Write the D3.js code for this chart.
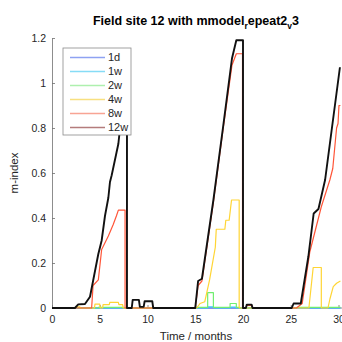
<!DOCTYPE html>
<html>
<head>
<meta charset="utf-8">
<script src="https://cdnjs.cloudflare.com/ajax/libs/d3/7.8.5/d3.min.js"></script>
<style>
  body { margin: 0; background: #fff; }
  svg { display: block; font-family: "Liberation Sans", Arial, sans-serif; }
</style>
</head>
<body>
<div id="chart"></div>
<script>
// series as [time (months), m-index] points
var series1d = [[0, 0], [30.2, 0]];
var series1w = [[0, 0], [16.3, 0], [16.35, 0.005], [16.9, 0.005], [16.95, 0], [18.7, 0], [18.75, 0.004],
    [19.2, 0.004], [19.25, 0], [30.2, 0]];
var series2w = [[0, 0], [4.8, 0], [4.85, 0.003], [7.5, 0.003], [7.55, 0], [15.1, 0], [15.15, 0.003],
    [16.3, 0.003], [16.3, 0.068], [16.9, 0.068], [16.9, 0.003], [18.65, 0.003], [18.65, 0.02], [19.3, 0.02],
    [19.3, 0.003], [19.6, 0.003], [19.65, 0], [25.6, 0], [25.65, 0.003], [30.2, 0.003]];
var series4w = [[0, 0], [2.4, 0], [2.5, 0.005], [2.9, 0.005], [3.0, 0], [4.45, 0], [4.5, 0.017], [5.0, 0.017],
    [5.05, 0], [5.3, 0], [5.35, 0.015], [6.0, 0.015], [6.05, 0.025], [6.95, 0.025], [7.0, 0.015], [7.4, 0.015],
    [7.45, 0], [15.15, 0], [15.5, 0.02], [16.0, 0.028], [16.5, 0.125], [17.1, 0.27], [17.2, 0.35], [18.1, 0.35],
    [18.2, 0.39], [18.55, 0.39], [18.8, 0.48], [19.6, 0.48], [19.6, 0], [26.9, 0], [27.35, 0.18], [28.2, 0.18],
    [28.2, 0], [28.9, 0], [29.1, 0.04], [29.45, 0.095], [29.8, 0.11], [30.2, 0.12]];
var series8w = [[0, 0], [4.15, 0], [4.3, 0.1], [4.85, 0.125], [5.2, 0.26], [5.9, 0.32], [6.4, 0.37],
    [6.75, 0.41], [6.95, 0.435], [7.65, 0.435], [7.65, 0], [15.0, 0], [15.3, 0.1], [15.7, 0.12], [16.9, 0.47],
    [17.9, 0.79], [18.85, 1.08], [19.3, 1.13], [19.95, 1.13], [19.95, 0], [20.3, 0], [20.4, 0.012], [20.9, 0.012],
    [21.0, 0], [25.6, 0], [26.2, 0.02], [27.0, 0.25], [27.9, 0.4], [28.2, 0.45], [29.1, 0.57], [29.4, 0.62],
    [29.8, 0.8], [29.95, 0.82], [30.05, 0.9], [30.2, 0.9]];
var series12w = [[0, 0], [2.4, 0], [2.75, 0.016], [3.45, 0.018], [3.98, 0.05], [4.3, 0.12], [4.85, 0.24],
    [5.2, 0.3], [5.55, 0.41], [5.9, 0.49], [6.07, 0.56], [6.25, 0.59], [6.75, 0.69], [6.95, 0.73], [7.1, 0.79],
    [7.5, 0.92], [7.55, 0.95], [7.85, 0.95], [7.85, 0], [8.35, 0], [8.45, 0.036], [9.1, 0.036], [9.2, 0.005],
    [9.6, 0.005], [9.7, 0.03], [10.5, 0.03], [10.6, 0], [15.0, 0], [15.3, 0.12], [15.7, 0.13], [16.9, 0.48],
    [17.9, 0.8], [18.85, 1.11], [19.3, 1.19], [20.0, 1.19], [20.0, 0], [20.3, 0], [20.4, 0.015], [20.9, 0.015],
    [21.0, 0], [25.1, 0], [25.3, 0.02], [26.05, 0.02], [26.85, 0.23], [27.4, 0.42], [27.9, 0.44], [28.6, 0.57],
    [30.15, 1.07]];

var seriesNames = ["1d", "1w", "2w", "4w", "8w", "12w"];
var seriesData = [series1d, series1w, series2w, series4w, series8w, series12w];
var lineColors = ["#4a64ff", "#3cc8ff", "#70ee70", "#ffd534", "#ff5538", "#111111"];
var legendColors = ["#8ea2f2", "#86dcf6", "#aef0ae", "#f8e080", "#f8a494", "#b47c7c"];
var xTicks = [0, 5, 10, 15, 20, 25, 30];
var yTicks = [0, 0.2, 0.4, 0.6, 0.8, 1, 1.2];

var width = 342, height = 342;
var svg = d3.select("#chart").append("svg")
    .attr("width", width)
    .attr("height", height);

var x = d3.scaleLinear().domain([0, 30]).range([52, 338.5]);
var y = d3.scaleLinear().domain([0, 1.2]).range([308, 38]);
var axisColor = "#707070";

// axes (MATLAB style, ticks inside, box off)
var xAxis = svg.append("g")
    .attr("transform", "translate(0," + y(0) + ")")
    .call(d3.axisBottom(x).tickValues(xTicks).tickSizeInner(-3).tickSizeOuter(0).tickPadding(8));
var yAxis = svg.append("g")
    .attr("transform", "translate(" + x(0) + ",0)")
    .call(d3.axisLeft(y).tickValues(yTicks).tickSizeInner(-3).tickSizeOuter(0).tickPadding(6)
        .tickFormat(function(d) { return d3.format("")(d); }));
[xAxis, yAxis].forEach(function(ax) {
    ax.select(".domain").attr("stroke", axisColor).attr("stroke-width", 0.8);
    ax.selectAll(".tick line").attr("stroke", axisColor).attr("stroke-width", 0.8);
    ax.selectAll(".tick text").attr("fill", "#262626").attr("font-size", 10.5)
        .attr("font-family", "Liberation Sans, Arial, sans-serif");
});
// extend x axis line to the right edge
xAxis.select(".domain").attr("d", "M" + x(0) + ",0H" + (width + 2));

// lines
var line = d3.line()
    .x(function(d) { return x(d[0]); })
    .y(function(d) { return y(d[1]); });

svg.append("g").selectAll("path")
    .data(seriesData)
    .enter()
    .append("path")
    .attr("d", line)
    .attr("fill", "none")
    .attr("stroke", function(d, i) { return lineColors[i]; })
    .attr("stroke-width", function(d, i) { return i == 5 ? 1.9 : 1.2; })
    .attr("stroke-linejoin", "round");

// legend
var lg = svg.append("g").attr("transform", "translate(63,48)");
lg.append("rect")
    .attr("width", 68)
    .attr("height", 87)
    .attr("fill", "#fff")
    .attr("stroke", "#8a8a8a")
    .attr("stroke-width", 0.8);
seriesNames.forEach(function(name, i) {
    var yy = 9.5 + i * 14;
    lg.append("line")
        .attr("x1", 7).attr("x2", 42)
        .attr("y1", yy).attr("y2", yy)
        .style("stroke", legendColors[i])
        .style("stroke-width", 1.5);
    lg.append("text")
        .attr("x", 45)
        .attr("y", yy)
        .attr("dy", "0.35em")
        .attr("font-size", 11)
        .attr("fill", "#262626")
        .text(name);
});

// title with TeX-like subscripts
var title = svg.append("text")
    .attr("x", 196)
    .attr("y", 25)
    .attr("text-anchor", "middle")
    .attr("font-size", 12.5)
    .attr("font-weight", "bold")
    .attr("fill", "#000");
title.append("tspan").text("Field site 12 with mmodel");
title.append("tspan").attr("font-size", 8.5).attr("dy", 4).text("r");
title.append("tspan").attr("dy", -4).text("epeat2");
title.append("tspan").attr("font-size", 8.5).attr("dy", 4).text("v");
title.append("tspan").attr("dy", -4).text("3");

// axis labels
svg.append("text")
    .attr("x", 196)
    .attr("y", 340)
    .attr("text-anchor", "middle")
    .attr("font-size", 11.5)
    .attr("fill", "#262626")
    .text("Time / months");
svg.append("text")
    .attr("transform", "translate(18,173) rotate(-90)")
    .attr("text-anchor", "middle")
    .attr("font-size", 11.5)
    .attr("fill", "#262626")
    .text("m-index");
</script>
</body>
</html>
